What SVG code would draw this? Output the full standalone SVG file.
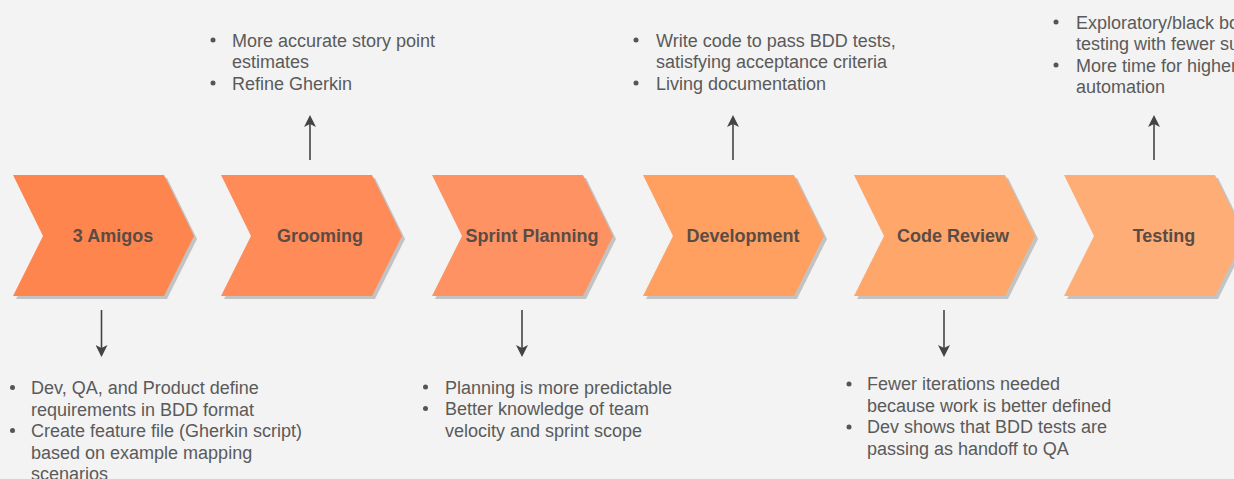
<svg xmlns="http://www.w3.org/2000/svg" width="1234" height="479" viewBox="0 0 1234 479">
<style>
.bg{fill:#f3f3f3}
.shadow{fill:#9a9a9a;opacity:0.55}
.lbl{font-family:"Liberation Sans",Arial,sans-serif;font-size:18px;font-weight:bold;fill:#5a4c45;text-anchor:middle}
.note{font-family:"Liberation Sans",Arial,sans-serif;font-size:18px;fill:#5a5a5a}
.dot{fill:#555}
.conn{stroke:#444;stroke-width:1.6;fill:none}
</style>
<defs>
<path id="chev" d="M0,0 H151 L181,61 L151,121 H0 L30,61 Z"/>
<marker id="ah" viewBox="0 0 12 12" refX="10" refY="6" markerWidth="12" markerHeight="12" markerUnits="userSpaceOnUse" orient="auto">
<path d="M0,0 L12,6 L0,12 L3,6 Z" fill="#444"/>
</marker>
</defs>
<rect class="bg" x="0" y="0" width="1234" height="479"/>

<g id="node-3amigos">
<use href="#chev" class="shadow" x="16" y="178"/>
<use href="#chev" x="13" y="175" fill="#ff854f"/>
<text class="lbl" x="113" y="242">3 Amigos</text>
</g>
<g id="node-grooming">
<use href="#chev" class="shadow" x="224" y="178"/>
<use href="#chev" x="221" y="175" fill="#ff8b59"/>
<text class="lbl" x="320" y="242">Grooming</text>
</g>
<g id="node-sprint-planning">
<use href="#chev" class="shadow" x="435" y="178"/>
<use href="#chev" x="432" y="175" fill="#ff9263"/>
<text class="lbl" x="532" y="242">Sprint Planning</text>
</g>
<g id="node-development">
<use href="#chev" class="shadow" x="646" y="178"/>
<use href="#chev" x="643" y="175" fill="#ffa061"/>
<text class="lbl" x="743" y="242">Development</text>
</g>
<g id="node-code-review">
<use href="#chev" class="shadow" x="857" y="178"/>
<use href="#chev" x="854" y="175" fill="#ffa66b"/>
<text class="lbl" x="953" y="242">Code Review</text>
</g>
<g id="node-testing">
<use href="#chev" class="shadow" x="1067" y="178"/>
<use href="#chev" x="1064" y="175" fill="#ffad77"/>
<text class="lbl" x="1164" y="242">Testing</text>
</g>

<g id="note-grooming">
<circle class="dot" cx="213" cy="40" r="2.5"/>
<circle class="dot" cx="213" cy="83" r="2.5"/>
<text class="note" x="232" y="46.5">More accurate story point</text>
<text class="note" x="232" y="68">estimates</text>
<text class="note" x="232" y="89.5">Refine Gherkin</text>
</g>
<g id="note-development">
<circle class="dot" cx="636" cy="40" r="2.5"/>
<circle class="dot" cx="636" cy="83" r="2.5"/>
<text class="note" x="656" y="46.5">Write code to pass BDD tests,</text>
<text class="note" x="656" y="68">satisfying acceptance criteria</text>
<text class="note" x="656" y="89.5">Living documentation</text>
</g>
<g id="note-testing">
<circle class="dot" cx="1056" cy="22" r="2.5"/>
<circle class="dot" cx="1056" cy="65" r="2.5"/>
<text class="note" x="1076" y="28.5">Exploratory/black box</text>
<text class="note" x="1076" y="50">testing with fewer surprises</text>
<text class="note" x="1076" y="71.5">More time for higher</text>
<text class="note" x="1076" y="93">automation</text>
</g>
<g id="note-3amigos">
<circle class="dot" cx="12.5" cy="387.5" r="2.5"/>
<circle class="dot" cx="12.5" cy="430.5" r="2.5"/>
<text class="note" x="31" y="394">Dev, QA, and Product define</text>
<text class="note" x="31" y="415.5">requirements in BDD format</text>
<text class="note" x="31" y="437">Create feature file (Gherkin script)</text>
<text class="note" x="31" y="458.5">based on example mapping</text>
<text class="note" x="31" y="480">scenarios</text>
</g>
<g id="note-sprint-planning">
<circle class="dot" cx="425.5" cy="387" r="2.5"/>
<circle class="dot" cx="425.5" cy="408.5" r="2.5"/>
<text class="note" x="445" y="393.5">Planning is more predictable</text>
<text class="note" x="445" y="415">Better knowledge of team</text>
<text class="note" x="445" y="436.5">velocity and sprint scope</text>
</g>
<g id="note-code-review">
<circle class="dot" cx="849" cy="384" r="2.5"/>
<circle class="dot" cx="849" cy="427" r="2.5"/>
<text class="note" x="867" y="390">Fewer iterations needed</text>
<text class="note" x="867" y="411.5">because work is better defined</text>
<text class="note" x="867" y="433">Dev shows that BDD tests are</text>
<text class="note" x="867" y="454.5">passing as handoff to QA</text>
</g>

<g id="connectors">
<line class="conn" x1="310" y1="160" x2="310" y2="117" marker-end="url(#ah)"/>
<line class="conn" x1="733" y1="160" x2="733" y2="117" marker-end="url(#ah)"/>
<line class="conn" x1="1154" y1="160" x2="1154" y2="117" marker-end="url(#ah)"/>
<line class="conn" x1="101.5" y1="310" x2="101.5" y2="355" marker-end="url(#ah)"/>
<line class="conn" x1="522" y1="310" x2="522" y2="355" marker-end="url(#ah)"/>
<line class="conn" x1="944" y1="310" x2="944" y2="355" marker-end="url(#ah)"/>
</g>
</svg>
